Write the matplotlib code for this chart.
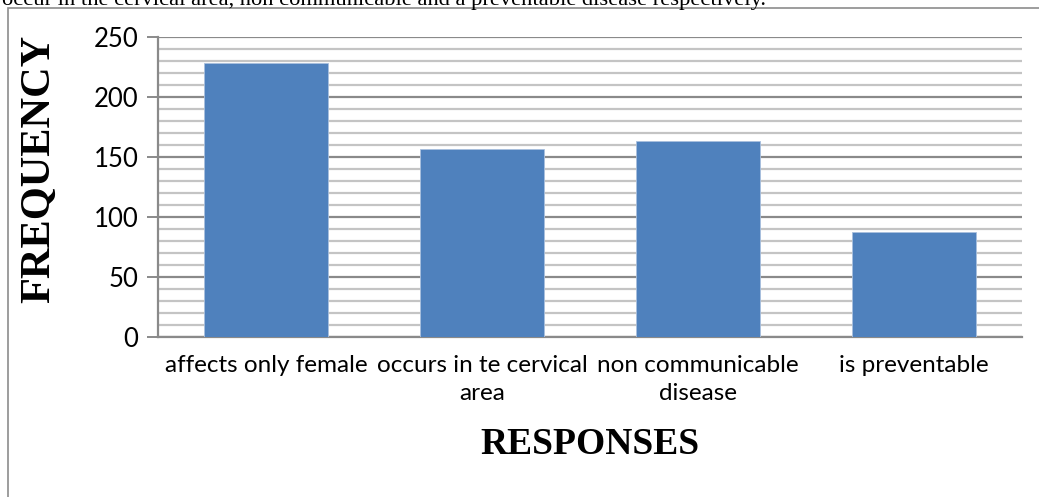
import matplotlib
matplotlib.use("Agg")
import matplotlib.pyplot as plt
from matplotlib.patches import Rectangle
from matplotlib.ticker import MultipleLocator

categories = ["affects only female", "occurs in te cervical\narea",
              "non communicable\ndisease", "is preventable"]
frequency = [229, 157, 164, 88]
y_ticks = [0, 50, 100, 150, 200, 250]

W, H = 1039, 497
fig = plt.figure(figsize=(W / 100, H / 100), dpi=100)
fig.patch.set_facecolor("white")

# running document text above the chart (cut at the page edge)
fig.text(2 / W, 1 - 5 / H,
         "occur in the cervical area, non communicable and a preventable disease respectively.",
         family="Liberation Serif", fontsize=16.2, ha="left", va="baseline", color="black")

# chart frame
fig.add_artist(Rectangle((8 / W, -0.1), 1.2, 1 - 8 / H + 0.1, transform=fig.transFigure,
                         fill=False, edgecolor="#8c8c8c", linewidth=1.2))

ax = fig.add_axes([158 / W, (H - 337.3) / H, 864 / W, 300 / H])
ax.set_facecolor("white")

x = range(len(categories))
ax.bar(x, frequency, width=0.575, color="#4F81BD", edgecolor="#a9c0de", linewidth=0.6, zorder=3)

ax.set_xlim(-0.5, len(categories) - 0.5)
ax.set_ylim(0, 250)
ax.set_yticks(y_ticks)
ax.yaxis.set_minor_locator(MultipleLocator(10))
ax.grid(which="minor", axis="y", color="#c4c4c4", linewidth=1.6, zorder=0)
ax.grid(which="major", axis="y", color="#8a8a8a", linewidth=1.6, zorder=1)

for side in ["top", "right"]:
    ax.spines[side].set_visible(False)
for side in ["left", "bottom"]:
    ax.spines[side].set_color("#8a8a8a")
    ax.spines[side].set_linewidth(1.6)

ax.tick_params(axis="y", which="major", length=8, width=1.4, color="#8a8a8a",
               labelsize=18.5, pad=6)
ax.tick_params(axis="y", which="minor", length=0)
ax.tick_params(axis="x", length=0, labelsize=17.5, pad=13)
ax.set_xticks(list(x))
ax.set_xticklabels(categories, linespacing=1.4)
for lab in ax.get_xticklabels() + ax.get_yticklabels():
    lab.set_family("Lato")

ax.set_ylabel("FREQUENCY", family="Liberation Serif", fontweight="bold", fontsize=30.5)
ax.yaxis.set_label_coords(-0.116, 0.56)
fig.text(590 / W, 1 - 444 / H, "RESPONSES", family="Liberation Serif", fontweight="bold",
         fontsize=27, ha="center", va="center")

fig.savefig("out.png", dpi=100, facecolor="white")
